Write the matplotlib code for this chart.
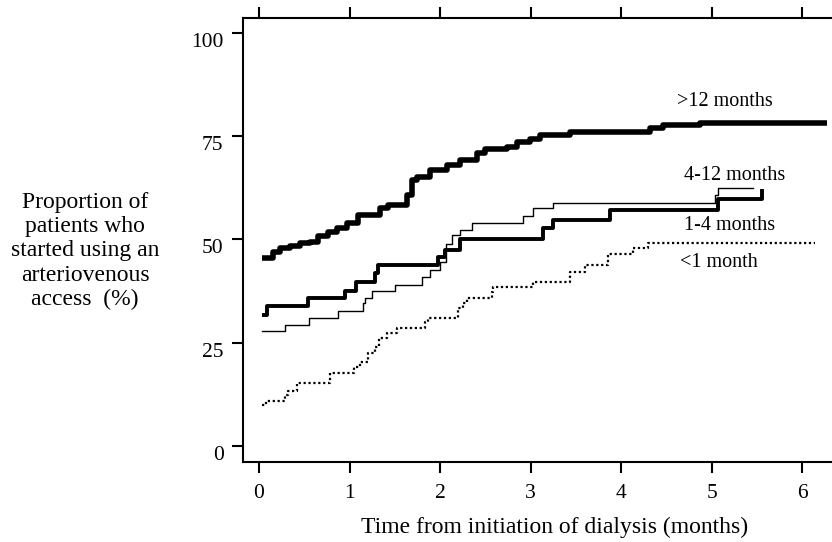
import matplotlib
matplotlib.use('Agg')
import matplotlib.pyplot as plt

plt.rcParams['font.family'] = ['Liberation Serif', 'DejaVu Serif']

# step curves (months, %)
t_gt12 = [0.03, 0.15, 0.23, 0.34, 0.45, 0.56, 0.65, 0.76, 0.86, 0.97, 1.09, 1.34, 1.43, 1.64, 1.69, 1.75,
          1.89, 2.08, 2.22, 2.41, 2.50, 2.74, 2.85, 2.99, 3.10, 3.44, 4.32, 4.46, 4.87, 6.28]
p_gt12 = [45.5, 47.0, 47.9, 48.4, 49.1, 49.4, 50.8, 51.8, 52.8, 54.0, 55.9, 57.6, 58.3, 60.8, 64.4, 65.1,
          66.8, 68.0, 69.2, 70.9, 71.9, 72.4, 73.6, 74.3, 75.3, 76.0, 77.0, 77.7, 78.2, 78.2]

t_4_12 = [0.03, 0.29, 0.55, 0.87, 1.15, 1.17, 1.25, 1.50, 1.80, 1.89, 2.00, 2.07, 2.13, 2.22, 2.35,
          2.92, 3.03, 3.25, 5.04, 5.07, 5.46]
p_4_12 = [27.8, 29.3, 31.0, 32.7, 34.6, 35.8, 37.5, 39.0, 40.9, 42.6, 44.5, 48.9, 51.1, 52.3, 54.0,
          55.7, 57.6, 58.8, 60.8, 62.5, 62.5]

t_1_4 = [0.03, 0.09, 0.54, 0.95, 1.07, 1.28, 1.31, 1.98, 2.06, 2.22, 3.14, 3.25, 3.88, 5.07, 5.56]
p_1_4 = [31.7, 33.9, 35.8, 37.5, 39.7, 41.9, 43.8, 45.8, 47.5, 50.1, 52.8, 54.7, 57.1, 59.8, 62.2]

t_lt1 = [0.03, 0.08, 0.29, 0.32, 0.42, 0.78, 1.05, 1.12, 1.20, 1.28, 1.33, 1.41, 1.52, 1.83, 1.87,
         2.20, 2.25, 2.30, 2.57, 2.59, 3.03, 3.44, 3.60, 3.86, 4.13, 4.30, 6.14]
p_lt1 = [9.9, 10.9, 12.3, 13.3, 15.3, 17.7, 19.1, 20.3, 22.5, 24.0, 26.1, 27.4, 28.6, 30.0, 31.0,
         33.4, 34.6, 35.8, 37.3, 38.5, 39.7, 42.1, 43.8, 46.5, 47.9, 49.1, 49.1]

labels = ['>12 months', '4-12 months', '1-4 months', '<1 month']
label_x = [5.15, 5.25, 5.20, 5.08]
label_y = [83.5, 65.4, 53.3, 44.5]

x_ticks = [0, 1, 2, 3, 4, 5, 6]
y_ticks = [0, 25, 50, 75, 100]

fig = plt.figure(figsize=(8.32, 5.42), dpi=100)
ax = fig.add_axes([243 / 832, 80 / 542, 1 - 243 / 832, 444 / 542])

ax.plot(t_gt12, p_gt12, drawstyle='steps-post', color='black', lw=4.0, solid_capstyle='butt')
ax.plot(t_4_12, p_4_12, drawstyle='steps-post', color='black', lw=1.0)
ax.plot(t_1_4, p_1_4, drawstyle='steps-post', color='black', lw=2.8, solid_capstyle='butt')
ax.plot(t_lt1, p_lt1, drawstyle='steps-post', color='black', lw=1.6, linestyle=(0, (1, 1.2)))

for lab, lx, ly in zip(labels, label_x, label_y):
    ax.text(lx, ly, lab, fontsize=14.5, ha='center', va='center')

ax.set_xlim(-0.177, 6.33)
ax.set_ylim(-3.9, 103.6)
ax.set_xticks(x_ticks)
ax.set_yticks(y_ticks)
ax.spines['right'].set_visible(False)
for s in ['left', 'bottom', 'top']:
    ax.spines[s].set_linewidth(1.5)
ax.tick_params(axis='both', direction='out', length=8, width=1.5, labelsize=15.5)
ax.tick_params(axis='x', top=True, pad=8)
ax.tick_params(axis='y', pad=6)
for lab in ax.get_yticklabels():
    lab.set_verticalalignment('top')

fig.text(555 / 832, 1 - 533 / 542, 'Time from initiation of dialysis (months)',
         fontsize=17, ha='center', va='baseline')
fig.text(85 / 832, 1 - 251 / 542,
         'Proportion of\npatients who\nstarted using an\narteriovenous\naccess  (%)',
         fontsize=17, ha='center', va='center', linespacing=1.2)

fig.savefig('out.png', dpi=100)
